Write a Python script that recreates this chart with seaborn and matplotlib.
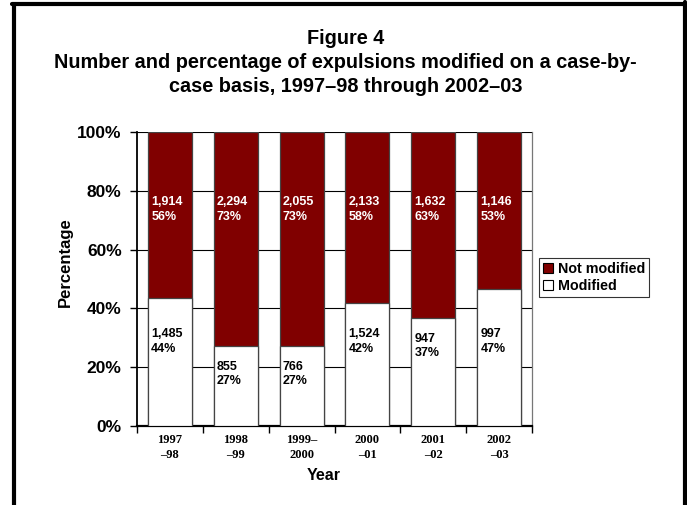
import matplotlib
matplotlib.use("Agg")
import matplotlib.pyplot as plt
import seaborn as sns
import pandas as pd
import numpy as np
from matplotlib.lines import Line2D
from matplotlib.patches import Patch

# ---- data ----
years = ["1997\n\u201398", "1998\n\u201399", "1999\u2013\n2000", "2000\n\u201301", "2001\n\u201302", "2002\n\u201303"]
modified = [1485, 855, 766, 1524, 947, 997]
not_modified = [1914, 2294, 2055, 2133, 1632, 1146]
y_ticks = [0, 20, 40, 60, 80, 100]

totals = np.array(modified) + np.array(not_modified)
pct_mod = 100 * np.array(modified) / totals
pct_not = 100 * np.array(not_modified) / totals

df = pd.DataFrame({"year": years, "mod": pct_mod, "all": pct_mod + pct_not})

sns.set_style("white")
plt.rcParams["font.family"] = ["Liberation Sans", "DejaVu Sans"]
plt.rcParams["text.color"] = "black"
plt.rcParams["axes.labelcolor"] = "black"
plt.rcParams["xtick.color"] = "black"
plt.rcParams["ytick.color"] = "black"

DARK = "#800000"
W, H = 687, 505
fig = plt.figure(figsize=(W / 100, H / 100), dpi=100)
ax = fig.add_axes([137 / W, 1 - 426 / H, (532 - 137) / W, (426 - 132) / H])

ax.set_axisbelow(True)
for t in y_ticks:
    ax.axhline(t, color="black", lw=0.8, zorder=0)

sns.barplot(data=df, x="year", y="all", order=years, color=DARK, width=0.67,
            edgecolor="#444444", linewidth=0.9, saturation=1, ax=ax, zorder=2)
sns.barplot(data=df, x="year", y="mod", order=years, color="white", width=0.67,
            edgecolor="#444444", linewidth=0.9, saturation=1, ax=ax, zorder=3)

ax.set_xlim(-0.5, len(years) - 0.5)
ax.set_ylim(0, 100)

# value labels
for i in range(len(years)):
    xl = i - 0.335 + 0.05
    ax.text(xl, 73.6, f"{not_modified[i]:,}\n{pct_not[i]:.0f}%", color="white",
            fontsize=9, fontweight="bold", ha="left", va="center", zorder=5,
            linespacing=1.25)
    yc = min(28.7, pct_mod[i] - 9.5)
    ax.text(xl, yc, f"{modified[i]:,}\n{pct_mod[i]:.0f}%", color="black",
            fontsize=9, fontweight="bold", ha="left", va="center", zorder=5,
            linespacing=1.25)

# y axis
ax.set_yticks(y_ticks)
ax.set_yticklabels([f"{t}%" for t in y_ticks], fontsize=12.5, fontweight="bold")
ax.tick_params(axis="y", which="major", left=True, length=5, width=1, pad=6, color="black")

# x axis: boundary ticks, labels at centers
ax.set_xticks(np.arange(len(years) + 1) - 0.5)
ax.set_xticklabels([""] * (len(years) + 1))
ax.set_xticks(np.arange(len(years)), minor=True)
ax.set_xticklabels(years, minor=True, fontsize=9, fontweight="bold",
                   family=["Liberation Serif", "DejaVu Serif"], linespacing=1.25)
ax.tick_params(axis="x", which="major", bottom=True, length=5, width=1, color="black")
ax.tick_params(axis="x", which="minor", bottom=False, length=0, pad=6)

ax.set_xlabel("Year", fontsize=11.5, fontweight="bold")
ax.set_ylabel("Percentage", fontsize=12, fontweight="bold")
ax.xaxis.set_label_coords((324 - 137) / 395, (426 - 475) / 294)
ax.yaxis.set_label_coords((65 - 137) / 395, (426 - 262) / 294)
ax.xaxis.label.set_va("center")
ax.yaxis.label.set_va("center")

ax.spines["top"].set_visible(False)
ax.spines["right"].set_color("#777777")
ax.spines["right"].set_linewidth(0.9)
ax.spines["left"].set_color("black")
ax.spines["left"].set_linewidth(1.3)
ax.spines["bottom"].set_color("black")
ax.spines["bottom"].set_linewidth(1.6)

# legend
handles = [Patch(facecolor=DARK, edgecolor="black", lw=0.8, label="Not modified"),
           Patch(facecolor="white", edgecolor="black", lw=0.8, label="Modified")]
leg = fig.legend(handles=handles, loc="upper left",
                 bbox_to_anchor=(539 / W, 1 - 258 / H), frameon=True,
                 prop={"weight": "bold", "size": 10.3}, handlelength=0.7,
                 handleheight=0.7, handletextpad=0.3, borderpad=0.3,
                 labelspacing=0.2, fancybox=False, borderaxespad=0)
leg.get_frame().set_edgecolor("black")
leg.get_frame().set_linewidth(0.8)

# title
TS = 14.3
fig.text(0.503, 1 - 38 / H, "Figure 4", ha="center", va="center", fontsize=TS, fontweight="bold")
fig.text(0.503, 1 - 62 / H, "Number and percentage of expulsions modified on a case-by-",
         ha="center", va="center", fontsize=TS, fontweight="bold")
fig.text(0.503, 1 - 86 / H, "case basis, 1997\u201398 through 2002\u201303",
         ha="center", va="center", fontsize=TS, fontweight="bold")

# frame border
def px(x, y):
    return (x / W, 1 - y / H)
for (x0, y0), (x1, y1) in [((14, 3.5), (14, H)), ((12, 3.5), (685, 3.5)), ((685, 2), (685, H))]:
    a, b = px(x0, y0)
    c, d = px(x1, y1)
    fig.add_artist(Line2D([a, c], [b, d], color="black", lw=3, transform=fig.transFigure))

fig.savefig("out.png", dpi=100)
